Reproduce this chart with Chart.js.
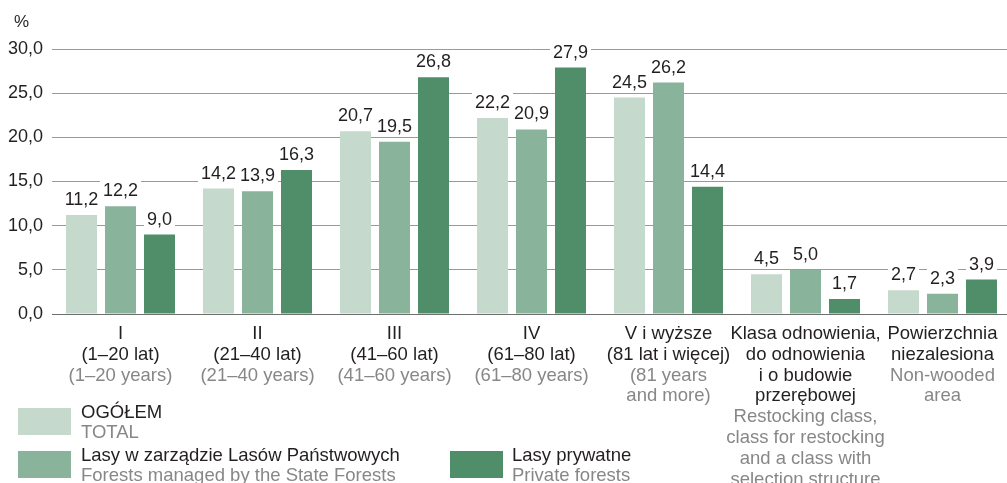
<!DOCTYPE html>
<html>
<head>
<meta charset="utf-8">
<script src="https://cdn.jsdelivr.net/npm/chart.js@4"></script>
<style>
html,body{margin:0;padding:0;background:#fff;overflow:hidden;width:1007px;height:483px;}
canvas{display:block;}
</style>
</head>
<body>
<canvas id="c" width="1012" height="483"></canvas>
<script>
const categoriesPL = [
  ["I","(1–20 lat)"],
  ["II","(21–40 lat)"],
  ["III","(41–60 lat)"],
  ["IV","(61–80 lat)"],
  ["V i wyższe","(81 lat i więcej)"],
  ["Klasa odnowienia,","do odnowienia","i o budowie","przerębowej"],
  ["Powierzchnia","niezalesiona"]
];
const categoriesEN = [
  ["(1–20 years)"],
  ["(21–40 years)"],
  ["(41–60 years)"],
  ["(61–80 years)"],
  ["(81 years","and more)"],
  ["Restocking class,","class for restocking","and a class with","selection structure"],
  ["Non-wooded","area"]
];
const total = [11.2, 14.2, 20.7, 22.2, 24.5, 4.5, 2.7];
const stateForests = [12.2, 13.9, 19.5, 20.9, 26.2, 5.0, 2.3];
const privateForests = [9.0, 16.3, 26.8, 27.9, 14.4, 1.7, 3.9];
const yTicks = [0, 5, 10, 15, 20, 25, 30];
const seriesNamesPL = ["OGÓŁEM", "Lasy w zarządzie Lasów Państwowych", "Lasy prywatne"];
const seriesNamesEN = ["TOTAL", "Forests managed by the State Forests", "Private forests"];

const COLORS = ["#c6d9cd", "#8ab39b", "#508e6a"];
const FONT = '"Liberation Sans", Arial, Helvetica, sans-serif';
const DARK = "#231f20";
const GRAY = "#878787";
const fmt = v => v.toFixed(1).replace('.', ',');

const overlay = {
  id: 'overlay',
  afterDatasetsDraw(chart) {
    const ctx = chart.ctx;
    const xs = chart.scales.x;
    ctx.save();
    ctx.font = '18px ' + FONT;
    ctx.textAlign = 'center';
    ctx.textBaseline = 'alphabetic';
    // data labels
    chart.data.datasets.forEach((ds, i) => {
      const meta = chart.getDatasetMeta(i);
      meta.data.forEach((bar, j) => {
        const txt = fmt(ds.data[j]);
        const w = ctx.measureText(txt).width;
        const base = bar.y - 10;
        ctx.fillStyle = '#fff';
        ctx.fillRect(bar.x - w / 2 - 3, base - 17, w + 6, 21);
        ctx.fillStyle = DARK;
        ctx.fillText(txt, bar.x, base);
      });
    });
    // % label
    ctx.textAlign = 'left';
    ctx.fillStyle = DARK;
    ctx.font = '17px ' + FONT;
    ctx.fillText('%', 14, 27);
    // x labels
    ctx.font = '18.5px ' + FONT;
    ctx.textAlign = 'center';
    const lh = 20.8;
    categoriesPL.forEach((pl, j) => {
      const cx = xs.getPixelForValue(j);
      let k = 0;
      pl.forEach(line => { ctx.fillStyle = DARK; ctx.fillText(line, cx, 339 + k * lh); k++; });
      categoriesEN[j].forEach(line => { ctx.fillStyle = GRAY; ctx.fillText(line, cx, 339 + k * lh); k++; });
    });
    // legend
    const items = [
      {x: 18, y: 408, tx: 81},
      {x: 18, y: 451, tx: 81},
      {x: 450, y: 451, tx: 512}
    ];
    ctx.textAlign = 'left';
    items.forEach((it, i) => {
      ctx.fillStyle = COLORS[i];
      ctx.fillRect(it.x, it.y, 53, 27);
      ctx.fillStyle = DARK;
      ctx.fillText(seriesNamesPL[i], it.tx, it.y + 10);
      ctx.fillStyle = GRAY;
      ctx.fillText(seriesNamesEN[i], it.tx, it.y + 30);
    });
    ctx.restore();
  }
};

new Chart(document.getElementById('c'), {
  type: 'bar',
  data: {
    labels: categoriesPL.map(a => a.join(' ')),
    datasets: [
      {label: seriesNamesPL[0], data: total, backgroundColor: COLORS[0]},
      {label: seriesNamesPL[1], data: stateForests, backgroundColor: COLORS[1]},
      {label: seriesNamesPL[2], data: privateForests, backgroundColor: COLORS[2]}
    ]
  },
  options: {
    responsive: false,
    animation: false,
    events: [],
    layout: {padding: {left: 0, right: 1, top: 49, bottom: 169}},
    datasets: {bar: {categoryPercentage: 0.854, barPercentage: 0.795}},
    plugins: {legend: {display: false}, tooltip: {enabled: false}},
    scales: {
      x: {
        afterFit(scale) { scale.height = 0; },
        grid: {display: false},
        border: {display: true, color: '#6f6f6f', width: 1},
        ticks: {display: false}
      },
      y: {
        min: 0, max: 30,
        afterFit(scale) { scale.width = 52; },
        afterBuildTicks(scale) { scale.ticks = yTicks.map(v => ({value: v})); },
        border: {display: false},
        grid: {
          drawTicks: false,
          color: ctx => ctx.tick && ctx.tick.value === 0 ? '#6f6f6f' : '#9a9a9a',
          lineWidth: 1
        },
        ticks: {
          padding: 9,
          color: DARK,
          font: {family: FONT, size: 18},
          callback: v => fmt(v)
        }
      }
    }
  },
  plugins: [overlay]
});
</script>
</body>
</html>
